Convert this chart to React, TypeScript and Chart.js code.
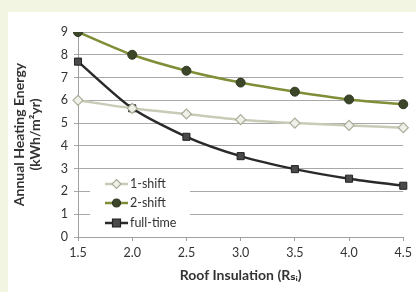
import React, { useEffect, useRef } from "react";
import { Chart, registerables } from "chart.js";

Chart.register(...registerables);

const categories = ["1.5", "2.0", "2.5", "3.0", "3.5", "4.0", "4.5"];
const oneShift = [6.0, 5.65, 5.4, 5.15, 5.0, 4.9, 4.8];
const twoShift = [9.0, 8.0, 7.3, 6.78, 6.38, 6.04, 5.83];
const fullTime = [7.7, 5.65, 4.4, 3.55, 2.98, 2.56, 2.25];
const yTicks = [0, 1, 2, 3, 4, 5, 6, 7, 8, 9];
const seriesNames = ["1-shift", "2-shift", "full-time"];

const FONT = 'Lato, "DejaVu Sans", sans-serif';

const legendPlugin = {
  id: "insideLegend",
  afterDatasetsDraw(chart: any) {
    const { ctx, chartArea } = chart;
    const x0 = chartArea.left + 12;
    const y0 = chartArea.top + 141;
    ctx.save();
    ctx.fillStyle = "#ffffff";
    ctx.fillRect(x0, y0, 100, 60);
    const rows = [y0 + 11, y0 + 30, y0 + 50];
    chart.data.datasets.forEach((ds: any, i: number) => {
      const y = rows[i];
      const lx1 = chartArea.left + 27;
      const lx2 = chartArea.left + 50;
      ctx.strokeStyle = ds.borderColor;
      ctx.lineWidth = ds.borderWidth;
      ctx.beginPath();
      ctx.moveTo(lx1, y);
      ctx.lineTo(lx2, y);
      ctx.stroke();
      const cx = (lx1 + lx2) / 2;
      const r = 4.5;
      ctx.fillStyle = ds.pointBackgroundColor;
      ctx.strokeStyle = ds.pointBorderColor;
      ctx.lineWidth = 1.2;
      ctx.beginPath();
      if (ds.pointStyle === "rectRot") {
        ctx.moveTo(cx, y - r);
        ctx.lineTo(cx + r, y);
        ctx.lineTo(cx, y + r);
        ctx.lineTo(cx - r, y);
        ctx.closePath();
      } else if (ds.pointStyle === "rect") {
        ctx.rect(cx - r + 0.5, y - r + 0.5, 2 * r - 1, 2 * r - 1);
      } else {
        ctx.arc(cx, y, r - 0.5, 0, Math.PI * 2);
      }
      ctx.fill();
      ctx.stroke();
      ctx.fillStyle = "#333333";
      ctx.font = `12.5px ${FONT}`;
      ctx.textBaseline = "middle";
      ctx.textAlign = "left";
      ctx.fillText(ds.label, chartArea.left + 52, y);
    });
    ctx.restore();
  },
};

export default function App() {
  const ref = useRef<HTMLCanvasElement | null>(null);

  useEffect(() => {
    if (!ref.current) return;
    const chart = new Chart(ref.current, {
      type: "line",
      data: {
        labels: categories,
        datasets: [
          {
            label: seriesNames[0],
            data: oneShift,
            borderColor: "#c8ccb6",
            borderWidth: 2.5,
            pointStyle: "rectRot",
            pointRadius: 5,
            pointBackgroundColor: "#f0f0ea",
            pointBorderColor: "#a9ad98",
            pointBorderWidth: 1.2,
            tension: 0.25,
          },
          {
            label: seriesNames[1],
            data: twoShift,
            borderColor: "#7f8f38",
            borderWidth: 2.5,
            pointStyle: "circle",
            pointRadius: 4.5,
            pointBackgroundColor: "#3c4628",
            pointBorderColor: "#2f3820",
            pointBorderWidth: 1,
            tension: 0.25,
          },
          {
            label: seriesNames[2],
            data: fullTime,
            borderColor: "#2a2a2a",
            borderWidth: 2.5,
            pointStyle: "rect",
            pointRadius: 5,
            pointBackgroundColor: "#4a4a4a",
            pointBorderColor: "#222222",
            pointBorderWidth: 1,
            tension: 0.25,
          },
        ],
      },
      options: {
        animation: false,
        responsive: false,
        maintainAspectRatio: false,
        layout: { padding: { top: 20, right: 9, left: 0, bottom: 0 } },
        plugins: {
          legend: { display: false },
          tooltip: { enabled: false },
        },
        scales: {
          x: {
            type: "category",
            offset: false,
            grid: {
              drawOnChartArea: false,
              drawTicks: true,
              tickLength: 4,
              color: "#a0a0a0",
            },
            border: { color: "#a0a0a0", width: 1 },
            ticks: {
              color: "#333333",
              font: { family: FONT, size: 12.5 },
              padding: 4,
              maxRotation: 0,
            },
            title: {
              display: true,
              text: "Roof Insulation (Rₛᵢ)",
              color: "#333333",
              font: { family: FONT, size: 14, weight: "bold" },
              padding: { top: 0, bottom: 8 },
            },
            afterFit: (s: any) => {
              s.height = 55;
            },
          },
          y: {
            min: 0,
            max: 9,
            afterBuildTicks: (s: any) => {
              s.ticks = yTicks.map((v) => ({ value: v }));
            },
            grid: {
              color: "#a8a8a8",
              drawTicks: true,
              tickLength: 4,
            },
            border: { color: "#a0a0a0", width: 1 },
            ticks: {
              color: "#333333",
              font: { family: FONT, size: 12.5 },
              padding: 6,
            },
            title: {
              display: true,
              text: ["Annual Heating Energy", "(kWh/m²yr)"],
              color: "#333333",
              font: { family: FONT, size: 14, weight: "bold", lineHeight: 1.1 },
              padding: { top: 4, bottom: 0 },
            },
            afterFit: (s: any) => {
              s.width = 70;
            },
          },
        },
      },
      plugins: [legendPlugin],
    });
    return () => chart.destroy();
  }, []);

  return (
    <div
      style={{
        position: "fixed",
        left: 0,
        top: 0,
        width: 416,
        height: 292,
        background: "#f2f5e1",
        overflow: "hidden",
      }}
    >
      <div
        style={{
          position: "absolute",
          left: 8,
          top: 12,
          width: 408,
          height: 280,
          background: "#ffffff",
        }}
      >
        <canvas ref={ref} width={408} height={280} style={{ display: "block" }} />
      </div>
    </div>
  );
}
